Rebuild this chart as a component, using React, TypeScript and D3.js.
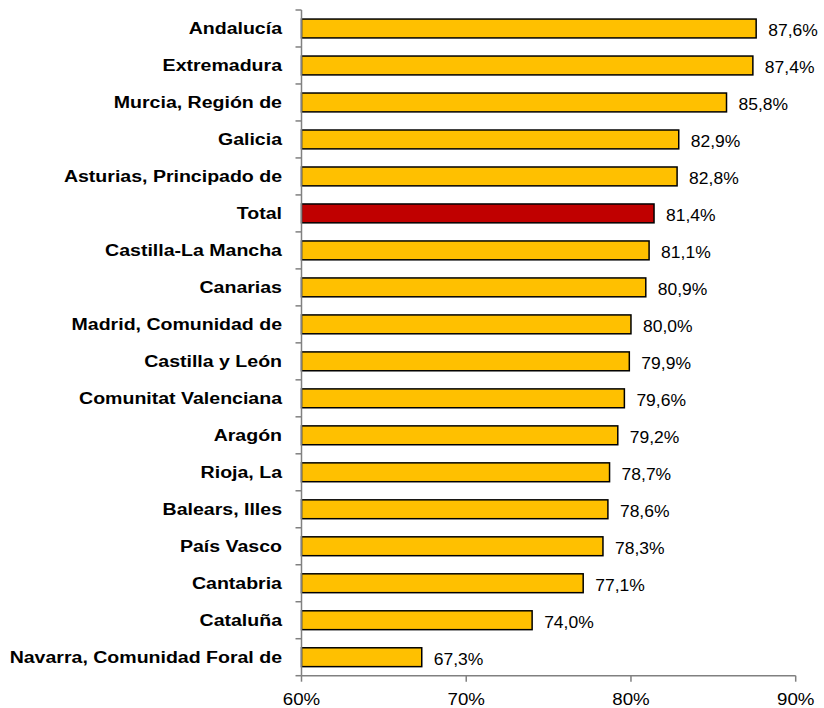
import React from "react";
import * as d3 from "d3";

const categories = [
  "Andalucía",
  "Extremadura",
  "Murcia, Región de",
  "Galicia",
  "Asturias, Principado de",
  "Total",
  "Castilla-La Mancha",
  "Canarias",
  "Madrid, Comunidad de",
  "Castilla y León",
  "Comunitat Valenciana",
  "Aragón",
  "Rioja, La",
  "Balears, Illes",
  "País Vasco",
  "Cantabria",
  "Cataluña",
  "Navarra, Comunidad Foral de",
];
const values = [87.6, 87.4, 85.8, 82.9, 82.8, 81.4, 81.1, 80.9, 80.0, 79.9, 79.6, 79.2, 78.7, 78.6, 78.3, 77.1, 74.0, 67.3];
const xTicks = [60, 70, 80, 90];

const W = 824;
const H = 708;
const left = 301.5;
const right = 795.7;
const top = 10;
const bottom = 675.7;
const font = "Arial, 'Liberation Sans', sans-serif";
const fmt = (v: number) => v.toFixed(1).replace(".", ",") + "%";

export default function App() {
  const x = d3.scaleLinear().domain([60, 90]).range([left, right]);
  const y = d3.scaleBand<string>().domain(categories).range([top, bottom]).paddingInner(0.49).paddingOuter(0.245);
  const band = (bottom - top) / categories.length;
  return (
    <svg width={W} height={H} style={{ position: "absolute", left: 0, top: 0 }}>
      {categories.map((c, i) => {
        const yy = y(c)!;
        const cy = yy + y.bandwidth() / 2;
        const v = values[i];
        const isTotal = c === "Total";
        return (
          <g key={c}>
            <rect
              x={x(60)}
              y={yy}
              width={x(v) - x(60)}
              height={y.bandwidth()}
              fill={isTotal ? "#C00000" : "#FFC000"}
              stroke="#000"
              strokeWidth={1.5}
            />
            <text
              transform={`translate(${x(v) + 12},${cy + 7.5}) scale(1.03,1)`}
              fontFamily={font}
              fontSize={17}
              fill="#000"
            >
              {fmt(v)}
            </text>
            <text
              transform={`translate(282,${cy + 6}) scale(1.15,1)`}
              textAnchor="end"
              fontFamily={font}
              fontSize={17}
              fontWeight="bold"
              fill="#000"
            >
              {c}
            </text>
          </g>
        );
      })}
      {/* y axis */}
      <line x1={left} x2={left} y1={top} y2={bottom} stroke="#808080" strokeWidth={1.5} />
      {d3.range(categories.length + 1).map((i) => (
        <line key={i} x1={left - 6} x2={left} y1={top + i * band} y2={top + i * band} stroke="#808080" strokeWidth={1.5} />
      ))}
      {/* x axis */}
      <line x1={left} x2={right} y1={bottom} y2={bottom} stroke="#808080" strokeWidth={1.5} />
      {xTicks.map((t) => (
        <g key={t}>
          <line x1={x(t)} x2={x(t)} y1={bottom} y2={bottom + 6} stroke="#808080" strokeWidth={1.5} />
          <text
            transform={`translate(${x(t)},705) scale(1.1,1)`}
            textAnchor="middle"
            fontFamily={font}
            fontSize={17}
            fill="#000"
          >
            {t + "%"}
          </text>
        </g>
      ))}
    </svg>
  );
}
